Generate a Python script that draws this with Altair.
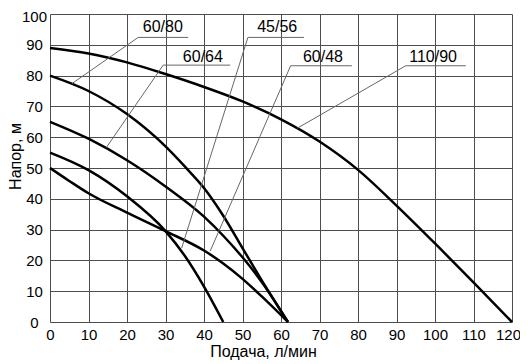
import altair as alt
import pandas as pd

# Pump curves: flow (л/мин) vs head (м)
q_110_90 = [0, 10, 20, 30, 40, 50, 60, 70, 80, 90, 100, 110, 120]
h_110_90 = [89, 87.2, 84.3, 80.5, 76.3, 71.6, 65.8, 58.6, 49.4, 37.8, 25.5, 12.9, 0]

q_60_80 = [0, 10, 20, 30, 35, 40, 45, 50, 55, 61.8]
h_60_80 = [80, 75, 67.5, 57, 50.5, 43.5, 34.5, 24, 13.5, 0]

q_60_64 = [0, 10, 20, 30, 40, 45, 50, 55, 61.8]
h_60_64 = [65, 59.5, 52.5, 44, 34.2, 28, 21, 13, 0]

q_45_56 = [0, 10, 20, 30, 35, 40, 45]
h_45_56 = [55, 49.3, 40.8, 29.5, 21.5, 11.5, 0]

q_60_48 = [0, 5, 10, 20, 30, 40, 45, 50, 55, 61.8]
h_60_48 = [50, 45.8, 41.8, 35.5, 29.5, 23.2, 19, 14, 8.3, 0]

# Labels: name, text anchor, underline, leader target on curve
lab_names = ["60/80", "60/64", "45/56", "60/48", "110/90"]
lab_tx = [29.3, 39.7, 59.0, 70.9, 99.5]
lab_ty = [94.2, 84.5, 94.0, 84.5, 84.5]
ul_x1 = [22.9, 29.4, 51.4, 62.5, 92.4]
ul_x2 = [35.9, 46.8, 66.0, 78.4, 108.0]
ul_y = [92.4, 83.4, 92.4, 83.2, 83.2]
pt_x = [5.7, 14.6, 34.2, 41.6, 64.2]
pt_y = [77.4, 56.6, 24.0, 23.0, 62.9]

x_ticks = list(range(0, 121, 10))
y_ticks = list(range(0, 101, 10))

rows = []
for name, qs, hs in [("110/90", q_110_90, h_110_90), ("60/80", q_60_80, h_60_80),
                     ("60/64", q_60_64, h_60_64), ("45/56", q_45_56, h_45_56),
                     ("60/48", q_60_48, h_60_48)]:
    for q, h in zip(qs, hs):
        rows.append({"series": name, "q": q, "h": h})
curves = pd.DataFrame(rows)

labels = pd.DataFrame({"name": lab_names, "tx": lab_tx, "ty": lab_ty,
                       "ux1": ul_x1, "ux2": ul_x2, "uy": ul_y,
                       "px": pt_x, "py": pt_y})

FONT = "Liberation Sans"
xs = alt.Scale(domain=[0, 120], nice=False, zero=True)
ys = alt.Scale(domain=[0, 100], nice=False, zero=True)

xaxis = alt.Axis(values=x_ticks, title="Подача, л/мин", grid=True, ticks=False, domain=False,
                 gridColor="#4d4d4d", gridOpacity=1, gridWidth=1,
                 labelFont=FONT, labelFontSize=15, labelColor="#000", labelPadding=5,
                 labelFlush=False, labelOverlap=False,
                 labelOffset={"condition": {"test": "datum.value == 120", "value": -4}, "value": 0},
                 titleFont=FONT, titleFontSize=16, titleFontWeight="normal", titleColor="#000",
                 titleX=213, titleY=34, titleBaseline="alphabetic", titleAlign="center")
yaxis = alt.Axis(values=y_ticks, title="Напор, м", grid=True, ticks=False, domain=False,
                 gridColor="#4d4d4d", gridOpacity=1, gridWidth=1,
                 labelFont=FONT, labelFontSize=15, labelColor="#000", labelPadding=16,
                 labelAlign="center", labelFlush=False, labelOverlap=False,
                 labelOffset={"condition": {"test": "datum.value == 100", "value": 2}, "value": 0},
                 titleFont=FONT, titleFontSize=16, titleFontWeight="normal", titleColor="#000",
                 titleX=-30, titleY=142, titleBaseline="alphabetic", titleAngle=270, titleAlign="center")

lines = alt.Chart(curves).mark_line(color="black", strokeWidth=2.5, interpolate="monotone").encode(
    x=alt.X("q:Q", scale=xs, axis=xaxis),
    y=alt.Y("h:Q", scale=ys, axis=yaxis),
    detail="series:N",
)

underline = alt.Chart(labels).mark_rule(color="#666", strokeWidth=1).encode(
    x=alt.X("ux1:Q", scale=xs, axis=xaxis), x2="ux2:Q", y=alt.Y("uy:Q", scale=ys, axis=yaxis))
leader = alt.Chart(labels).mark_rule(color="#666", strokeWidth=1).encode(
    x=alt.X("ux1:Q", scale=xs, axis=xaxis), x2="px:Q",
    y=alt.Y("uy:Q", scale=ys, axis=yaxis), y2="py:Q")
text = alt.Chart(labels).mark_text(font=FONT, fontSize=16, color="#000", align="center",
                                   baseline="alphabetic").encode(
    x=alt.X("tx:Q", scale=xs, axis=xaxis), y=alt.Y("ty:Q", scale=ys, axis=yaxis), text="name:N")

chart = alt.layer(lines, leader, underline, text).properties(
    width=462, height=308,
    autosize=alt.AutoSizeParams(type="none"),
    padding={"left": 42, "top": 6, "right": 8, "bottom": 38},
    background="white",
).configure_view(stroke=None)

chart.save("out.html", embed_options={"renderer": "svg", "actions": False})
